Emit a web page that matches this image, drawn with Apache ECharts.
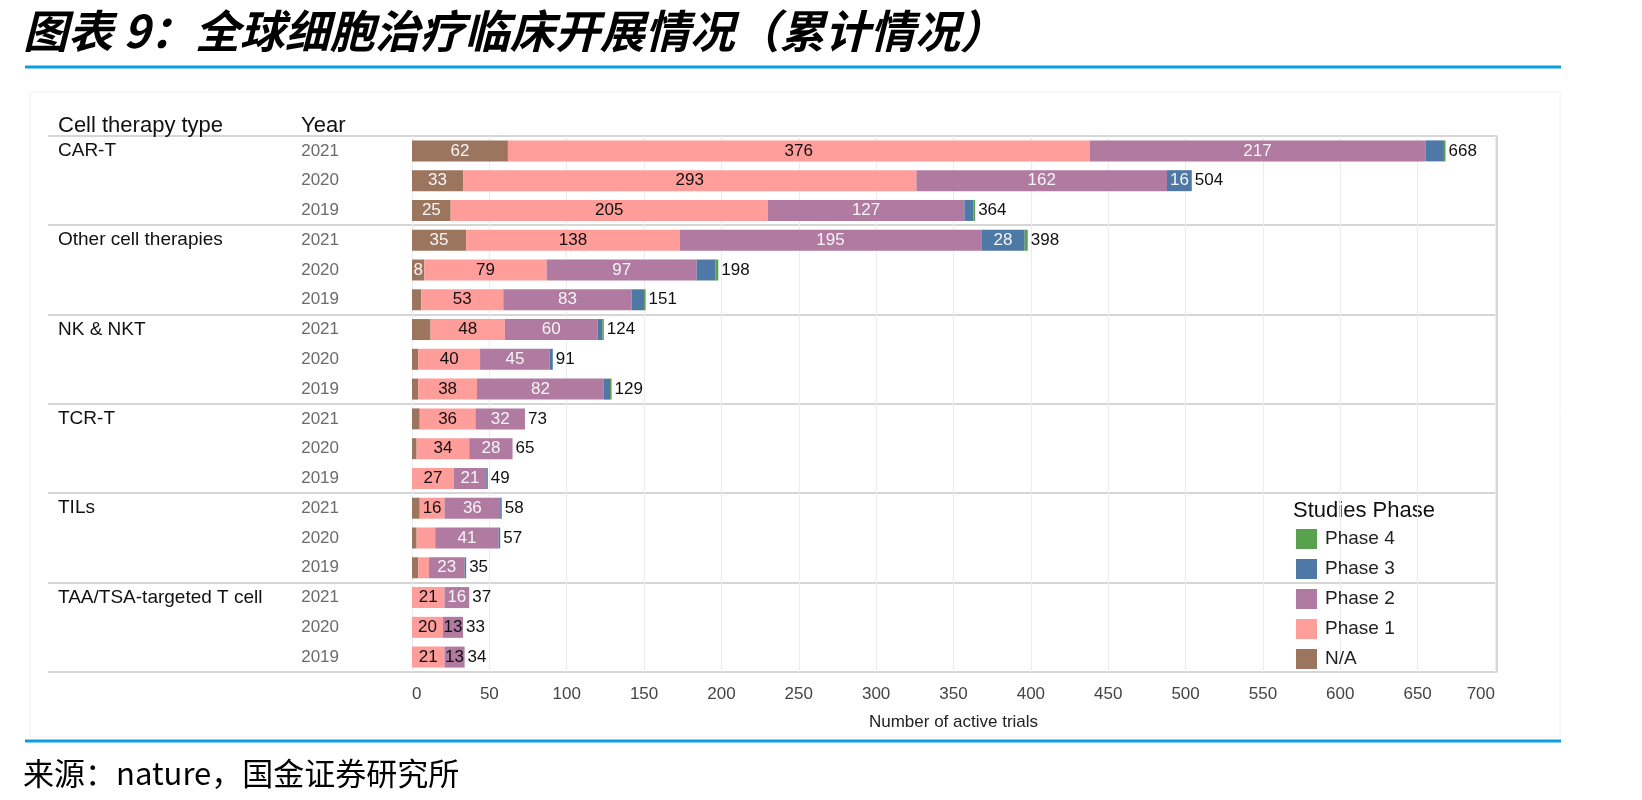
<!DOCTYPE html>
<html>
<head>
<meta charset="utf-8">
<title>全球细胞治疗临床开展情况</title>
<script src="https://cdn.jsdelivr.net/npm/echarts/dist/echarts.min.js"></script>
<style>
  html, body { margin: 0; padding: 0; background: #fff; }
  #main { width: 1642px; height: 800px; }
</style>
</head>
<body>
<div id="main"></div>
<script>
// 分组 & 年份（从上到下）
var groups = ['CAR-T', 'Other cell therapies', 'NK & NKT', 'TCR-T', 'TILs', 'TAA/TSA-targeted T cell'];
var years = ['2021', '2020', '2019'];

// 每行数值，顺序同上：CAR-T 2021, 2020, 2019, Other 2021 ...
var naVals     = [62, 33, 25, 35, 8, 6, 12, 4, 4, 5, 3, 0, 5, 3, 4, 0, 0, 0];
var phase1Vals = [376, 293, 205, 138, 79, 53, 48, 40, 38, 36, 34, 27, 16, 12, 7, 21, 20, 21];
var phase2Vals = [217, 162, 127, 195, 97, 83, 60, 45, 82, 32, 28, 21, 36, 41, 23, 16, 13, 13];
var phase3Vals = [12, 16, 6, 28, 12, 8, 3, 2, 4, 0, 0, 1, 1, 1, 1, 0, 0, 0];
var phase4Vals = [1, 0, 1, 2, 2, 1, 1, 0, 1, 0, 0, 0, 0, 0, 0, 0, 0, 0];
var totals     = [668, 504, 364, 398, 198, 151, 124, 91, 129, 73, 65, 49, 58, 57, 35, 37, 33, 34];

// 哪些段在原图里标了数字
var naShown     = [1, 1, 1, 1, 1, 0, 0, 0, 0, 0, 0, 0, 0, 0, 0, 0, 0, 0];
var phase1Shown = [1, 1, 1, 1, 1, 1, 1, 1, 1, 1, 1, 1, 1, 0, 0, 1, 1, 1];
var phase2Shown = [1, 1, 1, 1, 1, 1, 1, 1, 1, 1, 1, 1, 1, 1, 1, 1, 1, 1];
var phase2Dark  = [0, 0, 0, 0, 0, 0, 0, 0, 0, 0, 0, 0, 0, 0, 0, 0, 1, 1];
var phase3Shown = [0, 1, 0, 1, 0, 0, 0, 0, 0, 0, 0, 0, 0, 0, 0, 0, 0, 0];

var xTicks = { min: 0, max: 700, step: 50 };

var colors = {
  na: '#9c755f', p1: '#ff9d9a', p2: '#b07aa1', p3: '#4e79a7', p4: '#59a14f'
};

var categories = [];
groups.forEach(function (g) {
  years.forEach(function (y) { categories.push(g + '|' + y); });
});

var FONT = "'Liberation Sans', Arial, sans-serif";
var CJK = "'Noto Sans CJK SC', sans-serif";

// 布局
var gridTop = 136, gridBottomY = 672, gridLeft = 412, gridRightX = 1495;
var bandH = (gridBottomY - gridTop) / categories.length;

function makeData(vals, shown, colorFn) {
  return vals.map(function (v, i) {
    var d = { value: v };
    if (!shown || !shown[i]) {
      d.label = { show: false };
    } else if (colorFn) {
      d.label = { color: colorFn(i) };
    }
    return d;
  });
}

function barSeries(name, vals, shown, color, labelColor, colorFn) {
  return {
    name: name,
    type: 'bar',
    stack: 'total',
    barWidth: 21,
    itemStyle: { color: color },
    label: {
      show: true,
      position: 'inside',
      fontFamily: FONT,
      fontSize: 17,
      color: labelColor
    },
    emphasis: { disabled: true },
    data: makeData(vals, shown, colorFn)
  };
}

var series = [
  barSeries('N/A', naVals, naShown, colors.na, '#f5f5f5'),
  barSeries('Phase 1', phase1Vals, phase1Shown, colors.p1, '#111'),
  barSeries('Phase 2', phase2Vals, phase2Shown, colors.p2, '#f5f5f5', function (i) {
    return phase2Dark[i] ? '#111' : '#f5f5f5';
  }),
  barSeries('Phase 3', phase3Vals, phase3Shown, colors.p3, '#f5f5f5'),
  {
    name: 'Phase 4',
    type: 'bar',
    stack: 'total',
    barWidth: 21,
    itemStyle: { color: colors.p4 },
    label: {
      show: true,
      position: 'right',
      distance: 3,
      fontFamily: FONT,
      fontSize: 17,
      color: '#111',
      formatter: function (p) { return totals[p.dataIndex]; }
    },
    emphasis: { disabled: true },
    data: phase4Vals
  }
];

// 分组分隔线
var graphics = [];
for (var k = 0; k <= groups.length; k++) {
  var yy = Math.round(gridTop + k * years.length * bandH);
  graphics.push({
    type: 'line',
    shape: { x1: 48, y1: yy, x2: 1497, y2: yy },
    style: { stroke: '#d6d6d6', lineWidth: 2 },
    silent: true
  });
}
graphics.push(
  { type: 'line', shape: { x1: 1497, y1: gridTop, x2: 1497, y2: gridBottomY },
    style: { stroke: '#d6d6d6', lineWidth: 2 }, silent: true },
  // 外框
  { type: 'rect', shape: { x: 30, y: 92, width: 1530, height: 645 },
    style: { fill: 'none', stroke: '#f0f0f0', lineWidth: 1 }, silent: true },
  // 标题与蓝线
  { type: 'text', x: 23, y: 31,
    style: { text: '图表 9：全球细胞治疗临床开展情况（累计情况）', font: 'italic bold 45px ' + CJK,
      fill: '#000', verticalAlign: 'middle' } },
  { type: 'line', shape: { x1: 25, y1: 67, x2: 1561, y2: 67 }, style: { stroke: '#0b9de0', lineWidth: 3 } },
  { type: 'line', shape: { x1: 25, y1: 741, x2: 1561, y2: 741 }, style: { stroke: '#0b9de0', lineWidth: 3 } },
  { type: 'text', x: 23, y: 773,
    style: { text: '来源：nature，国金证券研究所', font: '31px ' + CJK, fill: '#000', verticalAlign: 'middle' } },
  // 表头
  { type: 'text', x: 58, y: 126,
    style: { text: 'Cell therapy type', font: '22px ' + FONT, fill: '#111', verticalAlign: 'middle' } },
  { type: 'text', x: 301, y: 126,
    style: { text: 'Year', font: '22px ' + FONT, fill: '#111', verticalAlign: 'middle' } },
  { type: 'text', x: 1293, y: 511,
    style: { text: 'Studies Phase', font: '22px ' + FONT, fill: '#111', verticalAlign: 'middle' } }
);

var chart = echarts.init(document.getElementById('main'), null, { renderer: 'canvas' });
chart.setOption({
  animation: false,
  backgroundColor: '#fff',
  grid: {
    top: gridTop,
    bottom: 800 - gridBottomY,
    left: gridLeft,
    right: 1642 - gridRightX,
    containLabel: false
  },
  legend: {
    orient: 'vertical',
    left: 1291,
    top: 524,
    itemWidth: 21,
    itemHeight: 20,
    itemGap: 10,
    icon: 'rect',
    selectedMode: false,
    textStyle: { fontFamily: FONT, fontSize: 19, color: '#222', padding: [0, 0, 0, 3] },
    data: ['Phase 4', 'Phase 3', 'Phase 2', 'Phase 1', 'N/A']
  },
  xAxis: {
    type: 'value',
    min: xTicks.min,
    max: xTicks.max,
    interval: xTicks.step,
    axisLine: { show: false },
    axisTick: { show: false },
    axisLabel: {
      fontFamily: FONT,
      fontSize: 17,
      color: '#444',
      margin: 14,
      alignMinLabel: 'left',
      alignMaxLabel: 'right'
    },
    splitLine: { show: true, lineStyle: { color: '#ececec', width: 1 } },
    name: 'Number of active trials',
    nameLocation: 'middle',
    nameGap: 42,
    nameTextStyle: { fontFamily: FONT, fontSize: 17, color: '#222' }
  },
  yAxis: [
    {
      type: 'category',
      inverse: true,
      data: categories,
      axisLine: { show: false },
      axisTick: { show: false },
      splitLine: { show: false },
      axisLabel: {
        align: 'right',
        margin: gridLeft - 339,
        fontFamily: FONT,
        fontSize: 17,
        color: '#6b6b6b',
        formatter: function (v) { return v.split('|')[1]; }
      }
    },
    {
      type: 'category',
      inverse: true,
      position: 'left',
      data: categories,
      axisLine: { show: false },
      axisTick: { show: false },
      splitLine: { show: false },
      axisLabel: {
        align: 'left',
        margin: gridLeft - 58,
        fontFamily: FONT,
        fontSize: 19,
        color: '#111',
        interval: 0,
        formatter: function (v) {
          var parts = v.split('|');
          return parts[1] === years[0] ? parts[0] : '';
        }
      }
    }
  ],
  series: series,
  graphic: graphics
});
</script>
</body>
</html>
